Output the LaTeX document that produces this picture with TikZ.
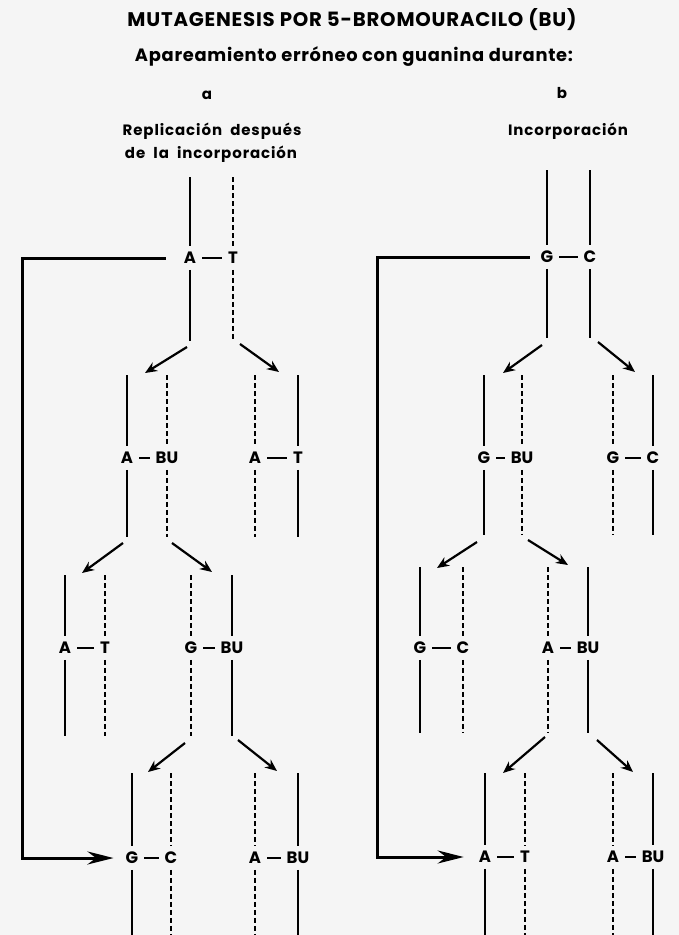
\documentclass[tikz,border=0pt]{standalone}
\usepackage{fontspec}
\usepackage{graphicx}
\setmainfont{Poppins}
\usetikzlibrary{arrows.meta}
\begin{document}
\begin{tikzpicture}[x=1pt,y=-1pt,
  strand/.style={line width=2.2pt},
  dstrand/.style={line width=2.4pt, dash pattern=on 5pt off 3pt},
  base/.style={font=\bfseries\fontsize{16.5}{16.5}\selectfont, inner xsep=2pt, inner ysep=6pt,
    text height=11.5pt, text depth=0pt},
  bond/.style={line width=2.4pt, shorten <=4pt, shorten >=4pt},
  split/.style={line width=2.2pt, -{Stealth[length=12pt,width=10pt]}},
  feedback/.style={line width=3pt, -{Stealth[length=26pt,width=13pt]}},
  heading/.style={font=\bfseries, inner sep=0pt},
  caption/.style={font=\bfseries\fontsize{15}{15}\selectfont\addfontfeature{LetterSpace=6}, inner sep=0pt}
]
\fill[gray!8] (0,0) rectangle (679,935);
\useasboundingbox (0,0) rectangle (679,935);

% headings
\node[heading] (title) at (352,20) {\resizebox{449pt}{!}{\addfontfeature{LetterSpace=4}MUTAGENESIS POR 5-BROMOURACILO (BU)}};
\node[heading] (sub) at (354,57) {\resizebox{438pt}{!}{\addfontfeature{LetterSpace=4}Apareamiento erróneo con guanina durante:}};
\node[heading, font=\bfseries\fontsize{15}{15}\selectfont] (la) at (207,95) {a};
\node[heading, font=\bfseries\fontsize{15}{15}\selectfont] (lb) at (562,93) {b};
\node[caption] (capa1) at (212,131) {Replicación\ \ después};
\node[caption] (capa2) at (211,154) {de\ \ la\ \ incorporación};
\node[caption] (capb) at (568,131) {Incorporación};

% base pairs: name / x / label / strand style / row y / strand top / strand bottom
\foreach \n/\x/\lab/\st/\y/\t/\b in {
  a1L/190/A/strand/258/177/341, a1R/233/T/dstrand/258/177/341,
  a2L/127/A/strand/458/375/537, a2R/167/BU/dstrand/458/375/537,
  a2M/255/A/dstrand/458/375/537, a2N/298/T/strand/458/375/537,
  a3L/65/A/strand/648/575/736, a3R/105/T/dstrand/648/575/736,
  a3M/191/G/dstrand/648/575/736, a3N/232/BU/strand/648/575/736,
  a4L/132/G/strand/858/773/935, a4R/171/C/dstrand/858/773/935,
  a4M/255/A/dstrand/858/773/935, a4N/298/BU/strand/858/773/935,
  b1L/547/G/strand/257/170/338, b1R/590/C/strand/257/170/338,
  b2L/484/G/strand/458/375/535, b2R/522/BU/dstrand/458/375/535,
  b2M/613/G/dstrand/458/375/535, b2N/653/C/strand/458/375/535,
  b3L/420/G/strand/648/567/733, b3R/463/C/dstrand/648/567/733,
  b3M/548/A/dstrand/648/567/733, b3N/588/BU/strand/648/567/733,
  b4L/485/A/strand/857/773/935, b4R/525/T/dstrand/857/773/935,
  b4M/613/A/dstrand/857/773/935, b4N/653/BU/strand/857/773/935}{
  \node[base] (\n) at (\x,\y) {\lab};
  \coordinate (\n t) at (\x,\t);
  \coordinate (\n b) at (\x,\b);
  \draw[\st] (\n t) -- (\n.north);
  \draw[\st] (\n.south) -- (\n b);
}

% hydrogen bonds
\foreach \p/\q in {a1L/a1R, a2L/a2R, a2M/a2N, a3L/a3R, a3M/a3N, a4L/a4R, a4M/a4N,
  b1L/b1R, b2L/b2R, b2M/b2N, b3L/b3R, b3M/b3N, b4L/b4R, b4M/b4N}
  \draw[bond] (\p) -- (\q);

% replication forks
\foreach \n/\sx/\sy/\ex/\ey in {
  a1l/187/347/145/373, a1r/240/344/279/372,
  a2l/123/543/82/573, a2r/172/543/212/572,
  a3l/185/743/148/772, a3r/238/740/277/771,
  b1l/542/345/503/373, b1r/598/342/635/372,
  b2l/477/542/437/568, b2r/528/540/568/565,
  b3l/545/737/503/773, b3r/597/740/633/772}{
  \coordinate (\n s) at (\sx,\sy);
  \coordinate (\n e) at (\ex,\ey);
  \draw[split] (\n s) -- (\n e);
}

% result arrows
\coordinate (fa) at (22,858);
\coordinate (fb) at (377,857);
\draw[feedback, shorten <=16pt, shorten >=10pt] (a1L.west) -| (fa) -- (a4L.west);
\draw[feedback, shorten <=9pt, shorten >=13pt] (b1L.west) -| (fb) -- (b4L.west);
\end{tikzpicture}
\end{document}
